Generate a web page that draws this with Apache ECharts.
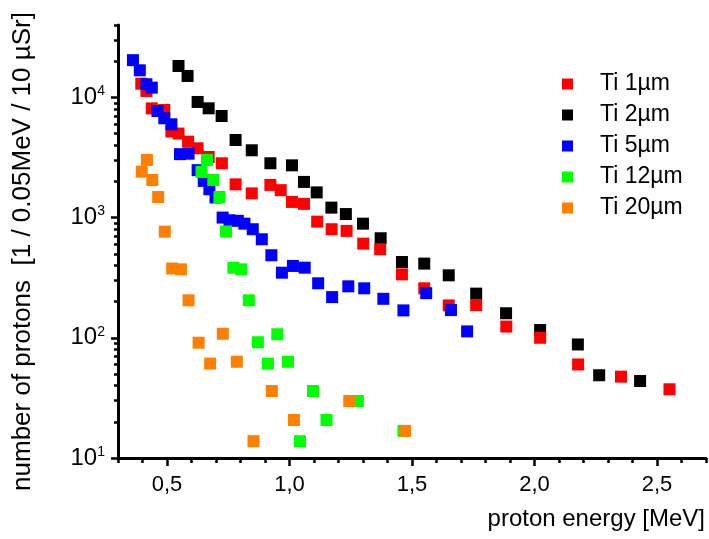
<!DOCTYPE html>
<html>
<head>
<meta charset="utf-8">
<script src="https://cdn.jsdelivr.net/npm/echarts@6/dist/echarts.min.js"></script>
<style>
  html, body { margin: 0; padding: 0; background: #fff; }
  #chart { width: 709px; height: 539px; }
</style>
</head>
<body>
<div id="chart"></div>
<script>
// Ti 1um (red)
var ti1E = [0.395, 0.416, 0.438, 0.489, 0.518, 0.547, 0.586, 0.625, 0.670, 0.724, 0.780, 0.846, 0.922, 0.964, 1.010, 1.059, 1.113, 1.172, 1.233, 1.301, 1.370, 1.459, 1.550, 1.650, 1.762, 1.885, 2.023, 2.178, 2.353, 2.551];
var ti1N = [13000, 11300, 8100, 7850, 5200, 5000, 4280, 3770, 3190, 2830, 1890, 1590, 1870, 1690, 1350, 1300, 925, 800, 775, 607, 545, 337, 258, 186, 187, 124, 100, 60, 47.5, 37.3];
// Ti 2um (black)
var ti2E = [0.547, 0.584, 0.625, 0.670, 0.723, 0.780, 0.846, 0.922, 1.010, 1.059, 1.111, 1.171, 1.230, 1.300, 1.372, 1.459, 1.550, 1.650, 1.762, 1.884, 2.023, 2.177, 2.264, 2.431];
var ti2N = [18250, 15070, 9160, 8110, 7000, 4420, 3630, 2830, 2720, 1980, 1620, 1210, 1070, 890, 673, 427, 414, 331, 233, 160, 116, 88, 48.8, 43.7];
// Ti 5um (blue)
var ti5E = [0.361, 0.389, 0.416, 0.438, 0.461, 0.489, 0.518, 0.553, 0.588, 0.625, 0.650, 0.673, 0.698, 0.727, 0.755, 0.789, 0.816, 0.850, 0.887, 0.926, 0.969, 1.014, 1.062, 1.117, 1.174, 1.240, 1.305, 1.383, 1.465, 1.558, 1.659, 1.725];
var ti5N = [20400, 16800, 12850, 12050, 7700, 6700, 5970, 3370, 3400, 2480, 2020, 1720, 1470, 1000, 950, 940, 890, 800, 660, 486, 348, 396, 383, 284, 218, 268, 258, 211, 169, 235, 170, 113];
// Ti 12um (green)
var ti12E = [0.641, 0.663, 0.689, 0.714, 0.741, 0.771, 0.803, 0.834, 0.871, 0.912, 0.950, 0.994, 1.043, 1.096, 1.151, 1.279, 1.465];
var ti12N = [2395, 3015, 2055, 1484, 766, 383, 371, 205, 91.8, 61, 107, 63.2, 13.8, 36.1, 20.7, 29.8, 16.8];
// Ti 20um (orange)
var ti20E = [0.397, 0.418, 0.440, 0.464, 0.491, 0.521, 0.557, 0.588, 0.629, 0.676, 0.728, 0.785, 0.853, 0.928, 1.018, 1.244, 1.472];
var ti20N = [2410, 3015, 2055, 1484, 764, 377, 371, 205, 91, 61, 108, 63.2, 13.8, 36.1, 20.7, 29.8, 16.8];

// axis ticks
var xMajor = [0.5, 1.0, 1.5, 2.0, 2.5];
var xMinor = [0.3, 0.4, 0.6, 0.7, 0.8, 0.9, 1.1, 1.2, 1.3, 1.4, 1.6, 1.7, 1.8, 1.9, 2.1, 2.2, 2.3, 2.4, 2.6, 2.7];
var yMajor = [10, 100, 1000, 10000];
var yMinor = [20, 30, 40, 50, 60, 70, 80, 90, 200, 300, 400, 500, 600, 700, 800, 900,
              2000, 3000, 4000, 5000, 6000, 7000, 8000, 9000, 20000, 30000, 40000];

function pairs(e, n) {
  return e.map(function (x, i) { return [x, n[i]]; });
}

var font = 'Liberation Sans, Arial, sans-serif';

function sq(name, color, e, n) {
  return {
    name: name,
    type: 'scatter',
    symbol: 'rect',
    symbolSize: 12,
    itemStyle: { color: color, opacity: 1 },
    data: pairs(e, n)
  };
}

var chart = echarts.init(document.getElementById('chart'));
var option = {
  animation: false,
  textStyle: { fontFamily: font },
  grid: { left: 118, right: 3, top: 25, bottom: 81, containLabel: false, outerBoundsMode: 'none' },
  graphic: [{
    type: 'text',
    right: 4,
    top: 507,
    style: { text: 'proton energy [MeV]', fontFamily: font, fontSize: 24, fill: '#000' }
  }],
  legend: {
    orient: 'vertical',
    left: 562,
    top: 72,
    padding: 0,
    icon: 'rect',
    itemWidth: 11,
    itemHeight: 11,
    itemGap: 7,
    textStyle: { fontFamily: font, fontSize: 23, color: '#000', lineHeight: 24, padding: [0, 0, 0, 22] },
    data: ['Ti 1µm', 'Ti 2µm', 'Ti 5µm', 'Ti 12µm', 'Ti 20µm']
  },
  xAxis: [{
    type: 'value',
    position: 'bottom',
    min: 0.3,
    max: 2.7,
    axisLine: { lineStyle: { color: '#000', width: 3 } },
    axisTick: { customValues: xMajor, length: 8, lineStyle: { color: '#000', width: 2.5 } },
    axisLabel: {
      customValues: xMajor,
      margin: 16,
      fontFamily: font, fontSize: 22, color: '#000',
      formatter: function (v) { return v.toFixed(1).replace('.', ','); }
    },
    splitLine: { show: false }
  }, {
    type: 'value',
    position: 'bottom',
    min: 0.3,
    max: 2.7,
    axisLine: { show: false },
    axisTick: { customValues: xMinor, length: 5, lineStyle: { color: '#000', width: 2.5 } },
    axisLabel: { show: false },
    splitLine: { show: false }
  }],
  yAxis: [{
    type: 'log',
    logBase: 10,
    position: 'left',
    min: 10,
    max: 40000,
    name: 'number of protons  [1 / 0.05MeV / 10 µSr]',
    nameLocation: 'middle',
    nameGap: 82,
    nameTextStyle: { fontFamily: font, fontSize: 26, color: '#000', padding: [0, 20, 0, 0] },
    axisLine: { show: true, lineStyle: { color: '#000', width: 3 } },
    axisTick: { customValues: yMajor, length: 7, lineStyle: { color: '#000', width: 2.5 } },
    axisLabel: {
      customValues: yMajor,
      margin: 13,
      formatter: function (v) {
        return '{b|10}{e|' + Math.round(Math.log10(v)) + '}';
      },
      rich: {
        b: { fontFamily: font, fontSize: 24, color: '#000', lineHeight: 26 },
        e: { fontFamily: font, fontSize: 14, color: '#000', verticalAlign: 'top', lineHeight: 26, padding: [0, 0, 10, 0] }
      }
    },
    splitLine: { show: false }
  }, {
    type: 'log',
    logBase: 10,
    position: 'left',
    min: 10,
    max: 40000,
    axisLine: { show: false },
    axisTick: { customValues: yMinor, length: 4, lineStyle: { color: '#000', width: 2.5 } },
    axisLabel: { show: false },
    splitLine: { show: false }
  }],
  series: [
    sq('Ti 2µm', '#000000', ti2E, ti2N),
    sq('Ti 1µm', '#ff0000', ti1E, ti1N),
    sq('Ti 5µm', '#0000ff', ti5E, ti5N),
    sq('Ti 12µm', '#00ff00', ti12E, ti12N),
    sq('Ti 20µm', '#ff8000', ti20E, ti20N)
  ]
};
chart.setOption(option);
</script>
</body>
</html>
